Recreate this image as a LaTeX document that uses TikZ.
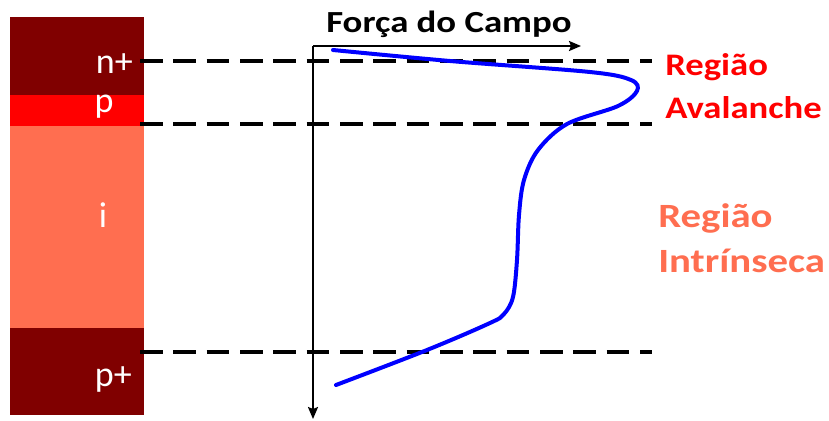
\documentclass[tikz,border=0pt]{standalone}
\usepackage{fontspec}
\setmainfont{Carlito}
\usetikzlibrary{arrows.meta,positioning}

\definecolor{darkred}{RGB}{128,0,0}
\definecolor{pred}{RGB}{255,0,0}
\definecolor{salmon}{RGB}{255,110,80}
\definecolor{curveblue}{RGB}{0,0,255}

\newcommand{\stretchx}[2]{\scalebox{#1}[1]{#2}}

\begin{document}
\begin{tikzpicture}[
  x=0.75pt, y=-0.75pt,
  layer/.style={rectangle, draw=none, inner sep=0pt, outer sep=0pt, minimum width=100.5pt},
  dopelbl/.style={text=white, font=\fontsize{27}{30}\selectfont, inner sep=0pt},
  regionlbl/.style={font=\fontsize{23.5}{28}\selectfont\bfseries, inner sep=0pt, anchor=base west},
  axis/.style={line width=1.5pt, -{Stealth[length=9pt, width=7.5pt, inset=1.5pt]}},
  boundary/.style={line width=3pt, dash pattern=on 17pt off 8pt},
  field/.style={line width=3pt, curveblue, line cap=round}
]
  \useasboundingbox (0,0) rectangle (829,421);
  % layers of the diode
  \node[layer, fill=darkred, minimum height=58.5pt, anchor=north west] (nplus) at (10,17) {};
  \node[layer, fill=pred, minimum height=23.25pt, below=0pt of nplus] (pl) {};
  \node[layer, fill=salmon, minimum height=151.5pt, below=0pt of pl] (il) {};
  \node[layer, fill=darkred, minimum height=65.25pt, below=0pt of il] (pplus) {};
  \node[dopelbl, anchor=base east] (nlbl) at (133,73) {n+};
  \node[dopelbl, anchor=base] (plbl) at (104,112) {p};
  \node[dopelbl, anchor=base] (ilbl) at (103,227) {i};
  \node[dopelbl, anchor=base east] (pplbl) at (132,386) {p+};
  % boundaries
  \coordinate (b1a) at (140,61);  \coordinate (b1b) at (652,61);
  \coordinate (b2a) at (140,124); \coordinate (b2b) at (652,124);
  \coordinate (b3a) at (140,352); \coordinate (b3b) at (652,352);
  \draw[boundary] (b1a) -- (b1b);
  \draw[boundary] (b2a) -- (b2b);
  \draw[boundary] (b3a) -- (b3b);
  % axes
  \coordinate (origin) at (313,46);
  \coordinate (xend) at (581,46);
  \coordinate (yend) at (313,419);
  \draw[axis] (origin) -- (xend);
  \draw[axis] (origin) -- (yend);
  \node[font=\fontsize{23}{28}\selectfont\bfseries, inner sep=0pt, anchor=base] (title) at (449,32) {\stretchx{1.2}{Força do Campo}};
  % electric field profile
  \draw[field] plot[smooth, tension=0.55] coordinates {(333,50) (450,61) (590,72) (631,80) (637,91) (618,106) (567,124) (538,150) (524,180) (519,215) (517,260) (513,297) (504,314) (490,323) (427,350) (336,385)};
  % region labels
  \node[regionlbl, text=pred] (ava1) at (665,75) {\stretchx{1.17}{Região}};
  \node[regionlbl, text=pred] (ava2) at (665,118) {\stretchx{1.17}{Avalanche}};
  \node[regionlbl, text=salmon, font=\fontsize{25.5}{30}\selectfont\bfseries] (int1) at (658,227) {\stretchx{1.2}{Região}};
  \node[regionlbl, text=salmon, font=\fontsize{25.5}{30}\selectfont\bfseries] (int2) at (658,272) {\stretchx{1.2}{Intrínseca}};
\end{tikzpicture}
\end{document}
